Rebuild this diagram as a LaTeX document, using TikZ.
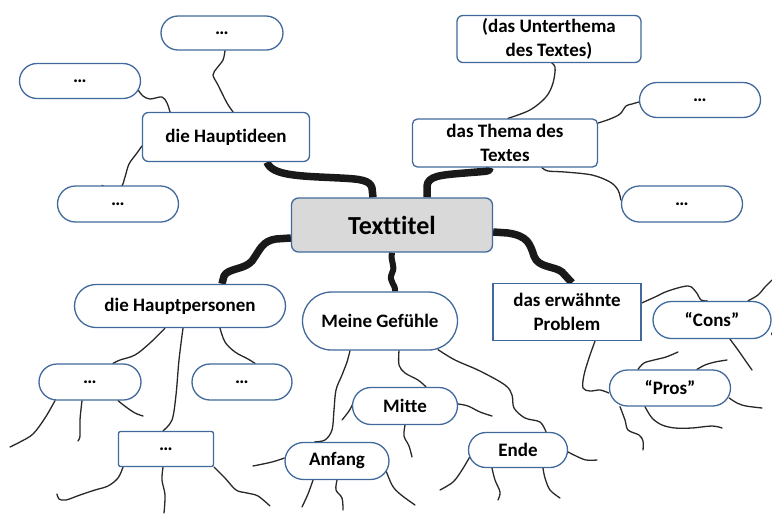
\documentclass[tikz,border=0pt]{standalone}
\usepackage{fontspec}
\setmainfont{Carlito}[Ligatures=NoCommon]
\usetikzlibrary{shapes.misc}
\pgfdeclarelayer{bg}
\pgfsetlayers{bg,main}
\definecolor{edge}{RGB}{65,105,155}
\definecolor{tgray}{RGB}{217,217,217}
\definecolor{wire}{RGB}{40,40,40}
\tikzset{
  box/.style={draw=edge, line width=1.3pt, fill=white, inner sep=0pt, align=center,
    font=\fontsize{19}{24}\selectfont\bfseries, text=black},
  pill/.style={box, rounded rectangle},
  rbox/.style={box, rectangle, rounded corners=#1},
  rbox/.default=6pt,
  sbox/.style={box, rectangle, sharp corners},
  sz/.style 2 args={minimum width=#1pt, minimum height=#2pt},
  thickc/.style={line width=7.5pt, black!90, line cap=butt, line join=round},
  thinc/.style={line width=1.3pt, wire, line cap=round, line join=round},
  wig/.style={smooth, tension=0.55},
}
\begin{document}
\begin{tikzpicture}[x=1pt,y=-1pt]
\useasboundingbox (0,0) rectangle (772,515);

% ---------- nodes ----------
\node[pill, sz={122}{34}] (top1) at (222,33) {…};
\node[pill, sz={121}{35}] (left1) at (80,81) {…};
\node[rbox, sz={167}{49}] (hi) at (226,137) {die Hauptideen};
\node[pill, sz={121}{36}] (bl1) at (118,204) {…};
\node[rbox=7pt, sz={201}{54}, fill=tgray, font=\fontsize{26}{29}\selectfont\bfseries] (title) at (392,225) {Texttitel};
\node[rbox, sz={184}{47}] (unter) at (549,39) {(das Unterthema\\des Textes)};
\node[pill, sz={121}{35}] (tr1) at (700,100) {…};
\node[rbox=5pt, sz={185}{48}] (thema) at (505,143) {das Thema des\\Textes};
\node[pill, sz={121}{36}] (tr2) at (682,204) {…};
\node[pill, sz={211}{43}] (hp) at (180,306) {die Hauptpersonen};
\node[pill, sz={102}{36}] (hpl) at (90,382) {…};
\node[pill, sz={100}{36}] (hpr) at (242,382) {…};
\node[rbox=2pt, sz={95}{35}] (hpb) at (166,449) {…};
\node[pill, sz={155}{58}] (mg) at (380,321) {Meine Gefühle};
\node[pill, sz={105}{37}] (mitte) at (405,406) {Mitte};
\node[pill, sz={104}{37}] (anfang) at (337,461) {Anfang};
\node[pill, sz={99}{35}] (ende) at (518,450) {Ende};
\node[sbox, sz={148}{57}] (prob) at (567,312) {das erwähnte\\Problem};
\node[pill, sz={118}{37}] (cons) at (712,320) {“Cons”};
\node[pill, sz={121}{36}] (pros) at (670,388) {“Pros”};

% ---------- free ends ----------
\coordinate (f1) at (10,447);   \coordinate (f2) at (78,441);   \coordinate (f3) at (143,416);
\coordinate (f4) at (57,494);   \coordinate (f5) at (164,513);  \coordinate (f6) at (270,506);
\coordinate (f7) at (342,420);  \coordinate (f8) at (492,416);  \coordinate (f9) at (412,457);
\coordinate (f10) at (253,466); \coordinate (f11) at (302,507); \coordinate (f12) at (343,510);
\coordinate (f13) at (415,505); \coordinate (f14) at (440,490); \coordinate (f15) at (498,500);
\coordinate (f16) at (560,498); \coordinate (f17) at (597,460); \coordinate (f18) at (772,280);
\coordinate (f19) at (772,335); \coordinate (f20) at (752,370); \coordinate (f21) at (678,352);
\coordinate (f22) at (727,360); \coordinate (f23) at (762,408); \coordinate (f24) at (722,428);
\coordinate (f25) at (643,450);

\begin{pgfonlayer}{bg}
% ---------- thick main connectors ----------
\draw[thickc] ([xshift=-19pt]title.north) -- (372,188)
  .. controls (370,180) and (360,179) .. (340,178)
  .. controls (300,176) and (272,176) .. ([xshift=41pt]hi.south);
\draw[thickc] ([xshift=35pt]title.north) -- (427,186)
  .. controls (428,176) and (440,175) .. (465,173)
  .. controls (487,171) and (490,172) .. ([xshift=-15pt]thema.south);
\draw[thickc] ([yshift=-13pt]title.west) -- (276,239)
  .. controls (262,241) and (260,250) .. (252,261)
  .. controls (244,270) and (228,268) .. (224,276) -- ([xshift=42pt]hp.north);
\draw[thickc, line width=6pt] (title.south) .. controls (390,262) and (396,266) .. (392,273)
  .. controls (388,282) and (396,284) .. ([xshift=15pt]mg.north);
\draw[thickc] ([yshift=-7pt]title.east) -- (508,233)
  .. controls (528,236) and (530,244) .. (534,256)
  .. controls (538,268) and (555,266) .. (562,272) -- ([xshift=5pt]prob.north);

% ---------- thin connectors between nodes ----------
\draw[thinc] plot[wig] coordinates {([xshift=7pt]hi.north) (227,103) (218,85) (213,75) (217,68) (223,60) ([xshift=3pt]top1.south)};
\draw[thinc] plot[wig] coordinates {([xshift=-56pt]hi.north) (167,103) (162,97) (150,99) (143,96) ([xshift=-3pt,yshift=-9pt]left1.east)};
\draw[thinc] plot[wig] coordinates {([yshift=-9pt]hi.west) (137,153) (129,164) (125,177) (121,187) (110,189) ([xshift=-16pt]bl1.north)};
\draw[thinc] plot[wig] coordinates {([xshift=3pt]thema.north) (530,110) (546,97) (553,83) (555,67) ([yshift=2pt]unter.south)};
\draw[thinc] plot[wig] coordinates {([yshift=20pt]thema.east) (610,119) (620,114) (626,106) (632,104) ([yshift=-2pt]tr1.west)};
\draw[thinc] plot[wig] coordinates {([xshift=37pt]thema.south) (548,171) (565,172) (592,175) (610,182) (618,190) ([yshift=4pt]tr2.west)};
\draw[thinc] plot[wig] coordinates {([xshift=-15pt]hp.south) (150,343) (135,355) (120,360) ([xshift=23pt]hpl.north)};
\draw[thinc] plot[wig] coordinates {([xshift=3pt]hp.south) (179,360) (176,395) (172,420) ([xshift=-3pt]hpb.north)};
\draw[thinc] plot[wig] coordinates {([xshift=40pt]hp.south) (225,342) (235,352) (248,359) ([xshift=13pt]hpr.north)};
\draw[thinc] plot[wig] coordinates {([xshift=-30pt]mg.south) (347,362) (342,375) (336,390) (334,410) (332,430) (325,440) ([xshift=-22pt]anfang.north)};
\draw[thinc] plot[wig] coordinates {([xshift=19pt]mg.south) (399,365) (405,373) (418,380) ([xshift=21pt]mitte.north)};
\draw[thinc] plot[wig] coordinates {([xshift=58pt,yshift=1pt]mg.south) (455,360) (480,371) (505,385) (512,395) (514,408) (525,418) (540,422) ([xshift=28pt]ende.north)};
\draw[thinc] plot[wig] coordinates {([xshift=28pt]prob.south) (589,358) (584,375) (583,388) (590,391) (600,390) ([yshift=-5pt]pros.west)};
\draw[thinc] plot[wig] coordinates {([yshift=9pt]prob.east) (655,297) (668,291) (688,286) (696,292) (701,300) ([xshift=-5pt]cons.north)};

% ---------- thin free tendrils ----------
\draw[thinc] plot[wig] coordinates {([xshift=-35pt]hpl.south) (45,418) (33,434) (20,442) (f1)};
\draw[thinc] plot[wig] coordinates {([xshift=-8pt]hpl.south) (80,420) (80,436) (f2)};
\draw[thinc] plot[wig] coordinates {([xshift=28pt]hpl.south) (126,407) (135,413) (f3)};
\draw[thinc] plot[wig] coordinates {([xshift=-43pt]hpb.south) (118,478) (108,486) (95,490) (80,495) (66,500) (59,499) (f4)};
\draw[thinc] plot[wig] coordinates {([xshift=-3pt]hpb.south) (162,480) (165,495) (f5)};
\draw[thinc] plot[wig] coordinates {(hpb.south east) (225,478) (236,490) (247,493) (258,496) (f6)};
\draw[thinc] plot[wig] coordinates {([xshift=2pt,yshift=4pt]mitte.west) (349,411) (f7)};
\draw[thinc] plot[wig] coordinates {([yshift=2pt]mitte.east) (468,406) (480,412) (f8)};
\draw[thinc] plot[wig] coordinates {(mitte.south) (404,436) (409,446) (f9)};
\draw[thinc] plot[wig] coordinates {([yshift=3pt]anfang.west) (272,462) (f10)};
\draw[thinc] plot[wig] coordinates {([xshift=-24pt]anfang.south) (308,494) (f11)};
\draw[thinc] plot[wig] coordinates {([xshift=0pt]anfang.south) (336,490) (342,498) (f12)};
\draw[thinc] plot[wig] coordinates {([xshift=-5pt,yshift=-6pt]anfang.east) (392,485) (400,494) (f13)};
\draw[thinc] plot[wig] coordinates {([xshift=3pt,yshift=-5pt]ende.west) (462,470) (453,482) (f14)};
\draw[thinc] plot[wig] coordinates {([xshift=-26pt]ende.south) (495,480) (500,492) (f15)};
\draw[thinc] plot[wig] coordinates {([xshift=25pt]ende.south) (545,478) (550,490) (f16)};
\draw[thinc] plot[wig] coordinates {([yshift=-2pt]ende.east) (576,456) (586,460) (f17)};
\draw[thinc] plot[wig] coordinates {([xshift=36pt]cons.north) (758,295) (765,287) (f18)};
\draw[thinc] plot[wig] coordinates {([yshift=-13pt]cons.east) (f19)};
\draw[thinc] plot[wig] coordinates {([xshift=18pt]cons.south) (738,350) (745,360) (f20)};
\draw[thinc] plot[wig] coordinates {([xshift=-32pt]pros.north) (644,363) (654,360) (666,357) (f21)};
\draw[thinc] plot[wig] coordinates {([xshift=27pt]pros.north) (705,365) (715,362) (f22)};
\draw[thinc] plot[wig] coordinates {([xshift=-2pt,yshift=-10pt]pros.east) (737,403) (746,406) (f23)};
\draw[thinc] plot[wig] coordinates {([xshift=-25pt]pros.south) (652,418) (662,425) (675,428) (692,428) (712,426) (f24)};
\draw[thinc] plot[wig] coordinates {([xshift=-50pt]pros.south) (625,420) (628,430) (639,435) (643,441) (f25)};
\end{pgfonlayer}
\end{tikzpicture}
\end{document}
